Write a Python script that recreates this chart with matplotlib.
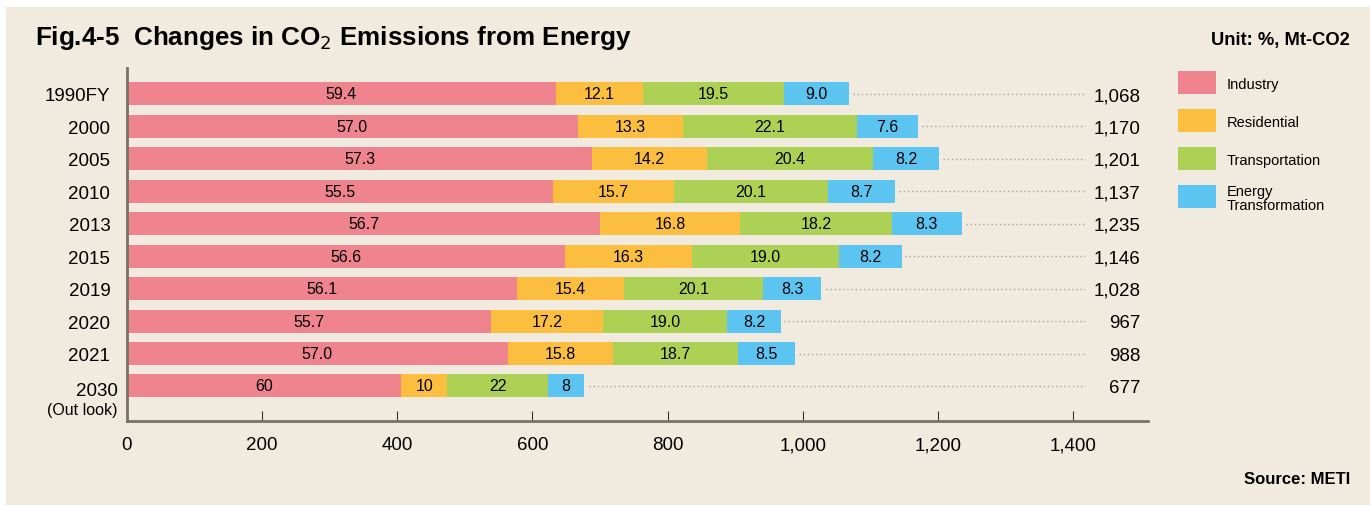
import matplotlib.pyplot as plt
from matplotlib.patches import Rectangle

plt.rcParams['font.family'] = ['Liberation Sans', 'DejaVu Sans']

years = ['1990FY', '2000', '2005', '2010', '2013', '2015', '2019', '2020', '2021', '2030']
totals = [1068, 1170, 1201, 1137, 1235, 1146, 1028, 967, 988, 677]
industry = [59.4, 57.0, 57.3, 55.5, 56.7, 56.6, 56.1, 55.7, 57.0, 60]
residential = [12.1, 13.3, 14.2, 15.7, 16.8, 16.3, 15.4, 17.2, 15.8, 10]
transport = [19.5, 22.1, 20.4, 20.1, 18.2, 19.0, 20.1, 19.0, 18.7, 22]
energy = [9.0, 7.6, 8.2, 8.7, 8.3, 8.2, 8.3, 8.2, 8.5, 8]
decimals = [1, 1, 1, 1, 1, 1, 1, 1, 1, 0]
sectors = ['Industry', 'Residential', 'Transportation', 'Energy\nTransformation']
colors = ['#ef848e', '#fbbe3e', '#add155', '#5bc4f1']
xticks = [0, 200, 400, 600, 800, 1000, 1200, 1400]

bg = '#f1ebdf'
fig = plt.figure(figsize=(13.7, 5.06), dpi=100)
fig.patch.set_facecolor('white')
fig.add_artist(Rectangle((6/1370, 0), 1 - 6/1370, 1 - 8/506, transform=fig.transFigure,
                         facecolor=bg, edgecolor='none', zorder=-10))

ax = fig.add_axes([127/1370, 1 - 422/506, (1148 - 127)/1370, (422 - 69)/506])
ax.set_facecolor('none')

series = [industry, residential, transport, energy]
for i in range(len(years)):
    left = 0
    for s, col in zip(series, colors):
        w = totals[i] * s[i] / 100
        ax.barh(i, w, left=left, height=0.71, color=col, edgecolor='none')
        ax.text(left + w / 2, i, f"{s[i]:.{decimals[i]}f}", ha='center', va='center', fontsize=11.5)
        left += w
    ax.plot([totals[i] + 6, 1418], [i, i], linestyle=(0, (1, 2)), color='#a8a39a', lw=1)
    ax.text(1500, i + 0.05, f"{totals[i]:,}", ha='right', va='center', fontsize=13.5)

ax.set_ylim(10.08, -0.8)
ax.set_xlim(0, 1511)
ax.set_yticks(range(len(years) - 1))
ax.set_yticklabels(years[:-1], fontsize=13.5)
# last row: year plus "(Out look)" underneath
ax.text(-14, len(years) - 1 + 0.15, years[-1], ha='right', va='center', fontsize=13.5)
ax.text(-14, len(years) - 1 + 0.72, '(Out look)', ha='right', va='center', fontsize=11.5)
ax.tick_params(axis='y', length=0, pad=12)
ax.set_xticks(xticks)
ax.set_xticklabels([f"{t:,}" for t in xticks], fontsize=13.5)
ax.tick_params(axis='x', direction='in', length=7, width=0.8, pad=11, color='#333333')
for s in ['top', 'right']:
    ax.spines[s].set_visible(False)
for s in ['left', 'bottom']:
    ax.spines[s].set_color('#7a7068')
    ax.spines[s].set_linewidth(2)

# legend
for k, (name, col) in enumerate(zip(sectors, colors)):
    yc = 83 + k * 38
    fig.add_artist(Rectangle((1178/1370, 1 - (yc + 11.5)/506), 38/1370, 23/506,
                             transform=fig.transFigure, facecolor=col, edgecolor='none'))
    fig.text(1227/1370, 1 - (yc + 2)/506, name, ha='left', va='center', fontsize=10.5,
             linespacing=1.0)

fig.text(35/1370, 1 - 38/506, 'Fig.4-5  Changes in CO$_2$ Emissions from Energy',
         fontsize=18.7, fontweight='bold', va='center', ha='left')
fig.text(1350/1370, 1 - 40/506, 'Unit: %, Mt-CO2', fontsize=13.2, fontweight='bold',
         va='center', ha='right')
fig.text(1350/1370, 1 - 480/506, 'Source: METI', fontsize=12, fontweight='bold',
         va='center', ha='right')

plt.savefig('out.png', dpi=100, facecolor=fig.get_facecolor())
